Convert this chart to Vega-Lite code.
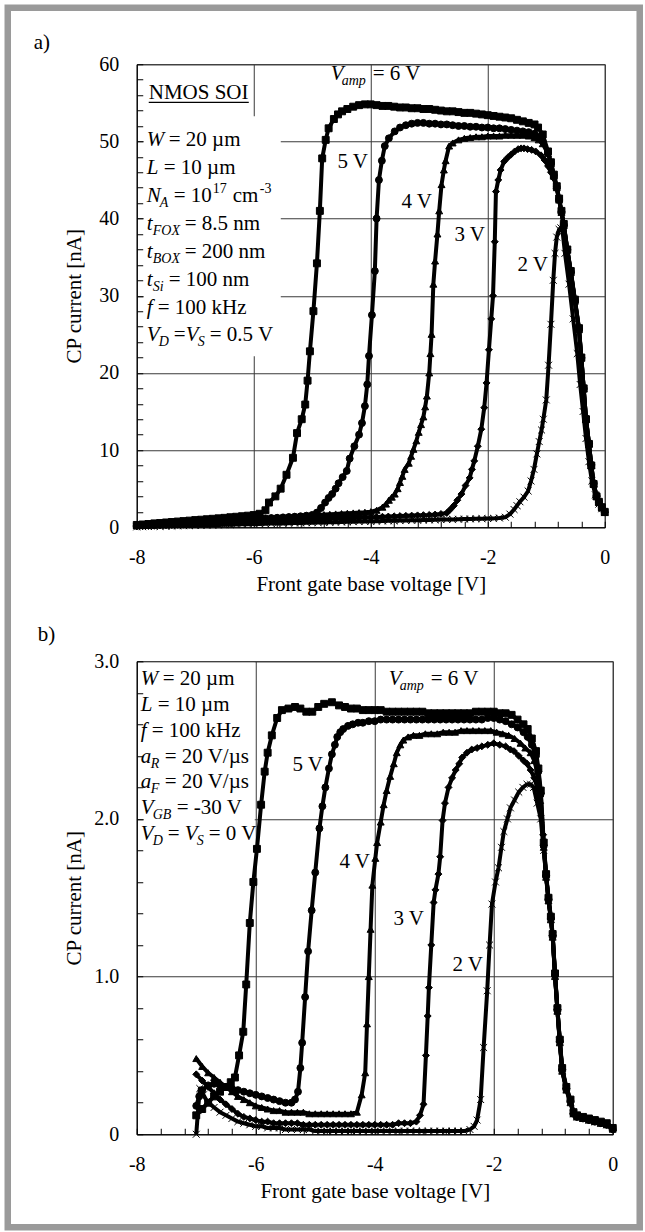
{
"$schema":"https://vega.github.io/schema/vega-lite/v6.json",
"background":"white",
"padding":{"left":3.75,"top":3.25,"right":2.75,"bottom":2.75},
"autosize":{"type":"pad"},
"bounds":"flush",
"spacing":134,
"config":{
 "view":{"stroke":"#222","strokeWidth":1},
 "axis":{"labelFont":"Liberation Serif","titleFont":"Liberation Serif","labelFontSize":20,"titleFontSize":21,"titleFontWeight":"normal","labelColor":"#000","titleColor":"#000","domainColor":"#000","domainWidth":1,"tickColor":"#000","tickWidth":1,"tickSize":-6,"gridColor":"#3a3a3a","gridWidth":1,"labelFlush":false,"labelOverlap":false,"labelBound":false},
 "axisX":{"labelPadding":26,"titlePadding":6},
 "axisY":{"labelPadding":24,"titlePadding":14},
 "text":{"font":"Liberation Serif","fontSize":21,"align":"left","baseline":"alphabetic","color":"#000"}
},
"datasets":{
"a":[
{"s":"6 V","x":[-8,-7.9,-7.8,-7.7,-7.6,-7.5,-7.4,-7.3,-7.2,-7.1,-7,-6.9,-6.8,-6.7,-6.6,-6.5,-6.4,-6.3,-6.2,-6.1,-6,-5.9,-5.8,-5.74,-5.63,-5.54,-5.44,-5.33,-5.26,-5.18,-5.12,-5.08,-5.04,-4.98,-4.92,-4.87,-4.83,-4.77,-4.72,-4.63,-4.56,-4.49,-4.4,-4.3,-4.2,-4.1,-4,-3.9,-3.8,-3.7,-3.6,-3.5,-3.4,-3.3,-3.2,-3.1,-3,-2.9,-2.8,-2.7,-2.6,-2.5,-2.4,-2.3,-2.2,-2.1,-2,-1.9,-1.8,-1.7,-1.6,-1.5,-1.4,-1.3,-1.2,-1.14,-1.06,-0.97,-0.92,-0.87,-0.82,-0.78,-0.74,-0.7,-0.64,-0.58,-0.51,-0.44,-0.4,-0.36,-0.32,-0.27,-0.23,-0.19,-0.14,-0.1,-0.05,0],
 "y":[0.3,0.36,0.42,0.5,0.55,0.62,0.68,0.74,0.8,0.86,0.93,0.98,1.04,1.1,1.16,1.22,1.3,1.36,1.43,1.5,1.58,1.75,2.2,3.2,4,5,6.8,9,12.2,14,15.9,19,22.8,28,34.2,41,47.8,50.2,51.7,52.9,53.5,53.9,54.2,54.5,54.7,54.8,54.8,54.7,54.6,54.6,54.5,54.4,54.4,54.3,54.3,54.2,54.2,54.1,54,53.9,53.9,53.8,53.7,53.7,53.6,53.5,53.4,53.3,53.2,53.1,53,52.8,52.6,52.4,52.2,51.8,50.9,48.7,47.3,45.7,44.2,42.6,41,39.3,36,33.2,29.5,25.8,22,18,14,10.8,8,5.6,4,3.3,2.6,2]},
{"s":"5 V","x":[-8,-7.9,-7.8,-7.7,-7.6,-7.5,-7.4,-7.3,-7.2,-7.1,-7,-6.9,-6.8,-6.7,-6.6,-6.5,-6.4,-6.3,-6.2,-6.1,-6,-5.9,-5.8,-5.7,-5.6,-5.5,-5.4,-5.3,-5.2,-5.1,-5,-4.92,-4.85,-4.78,-4.72,-4.66,-4.6,-4.55,-4.48,-4.41,-4.36,-4.28,-4.2,-4.15,-4.1,-4.06,-4.03,-3.98,-3.93,-3.9,-3.86,-3.81,-3.76,-3.69,-3.59,-3.5,-3.4,-3.3,-3.2,-3.1,-3,-2.9,-2.8,-2.7,-2.6,-2.5,-2.4,-2.3,-2.2,-2.1,-2,-1.9,-1.8,-1.7,-1.6,-1.5,-1.4,-1.3,-1.2,-1.13,-1.06,-0.97,-0.92,-0.87,-0.82,-0.78,-0.74,-0.7,-0.64,-0.58,-0.51,-0.44,-0.4,-0.36,-0.32,-0.27,-0.23,-0.19,-0.14,-0.1,-0.05,0],
 "y":[0.2,0.24,0.29,0.33,0.37,0.42,0.46,0.5,0.55,0.59,0.63,0.67,0.72,0.76,0.8,0.85,0.89,0.93,0.98,1.02,1.06,1.1,1.15,1.19,1.23,1.28,1.32,1.37,1.42,1.5,1.6,1.9,2.5,3.2,3.8,4.3,5,5.7,6.5,7.3,8.9,10.5,12,13.5,15.7,18.5,22.2,27.5,33.2,40,45,47.5,49.4,50.4,51.3,51.8,52.1,52.3,52.4,52.4,52.3,52.3,52.2,52.2,52.1,52,52,51.9,51.9,51.8,51.8,51.7,51.7,51.6,51.5,51.4,51.3,51.2,51,50.6,50,48.5,47.2,45.6,44.1,42.5,40.9,39.2,36,33.1,29.4,25.7,22,18,14.1,10.9,8.1,5.7,4.1,3.3,2.6,2]},
{"s":"4 V","x":[-8,-7.9,-7.8,-7.7,-7.6,-7.5,-7.4,-7.3,-7.2,-7.1,-7,-6.9,-6.8,-6.7,-6.6,-6.5,-6.4,-6.3,-6.2,-6.1,-6,-5.9,-5.8,-5.7,-5.6,-5.5,-5.4,-5.3,-5.2,-5.1,-5,-4.9,-4.8,-4.7,-4.6,-4.5,-4.4,-4.3,-4.2,-4.1,-4,-3.9,-3.8,-3.74,-3.69,-3.64,-3.59,-3.54,-3.5,-3.46,-3.42,-3.35,-3.31,-3.27,-3.22,-3.18,-3.14,-3.1,-3.07,-3.04,-3,-2.98,-2.96,-2.93,-2.9,-2.86,-2.83,-2.79,-2.75,-2.72,-2.66,-2.6,-2.5,-2.4,-2.3,-2.2,-2.1,-2,-1.9,-1.8,-1.7,-1.6,-1.5,-1.4,-1.3,-1.2,-1.13,-1.06,-0.97,-0.92,-0.87,-0.82,-0.78,-0.74,-0.7,-0.64,-0.58,-0.51,-0.44,-0.4,-0.36,-0.32,-0.27,-0.23,-0.19,-0.14,-0.1,-0.05,0],
 "y":[0.2,0.24,0.29,0.33,0.38,0.42,0.47,0.51,0.56,0.6,0.65,0.69,0.74,0.78,0.83,0.87,0.92,0.96,1.01,1.05,1.1,1.14,1.19,1.23,1.28,1.32,1.37,1.41,1.46,1.5,1.55,1.59,1.64,1.68,1.73,1.77,1.82,1.86,1.9,1.95,2.02,2.2,2.6,3,3.5,3.9,4.3,5,5.8,6.6,7.5,8.3,9.2,10.1,11.2,12.3,13.3,14.3,15.6,17,20,22.5,25,31.5,34.5,38,41,44.4,46.3,47.5,49.4,49.8,50.2,50.4,50.5,50.6,50.6,50.7,50.7,50.7,50.8,50.8,50.8,50.8,50.7,50.5,50.2,49.7,48.4,47.1,45.5,44,42.4,40.8,39.1,35.9,33,29.3,25.6,21.9,17.9,14,10.8,8,5.6,4,3.2,2.5,1.9]},
{"s":"3 V","x":[-8,-7.9,-7.8,-7.7,-7.6,-7.5,-7.4,-7.3,-7.2,-7.1,-7,-6.9,-6.8,-6.7,-6.6,-6.5,-6.4,-6.3,-6.2,-6.1,-6,-5.9,-5.8,-5.7,-5.6,-5.5,-5.4,-5.3,-5.2,-5.1,-5,-4.9,-4.8,-4.7,-4.6,-4.5,-4.4,-4.3,-4.2,-4.1,-4,-3.9,-3.8,-3.7,-3.6,-3.5,-3.4,-3.3,-3.2,-3.1,-3,-2.9,-2.8,-2.7,-2.64,-2.58,-2.52,-2.45,-2.38,-2.31,-2.27,-2.23,-2.17,-2.11,-2.06,-2.02,-1.98,-1.94,-1.91,-1.88,-1.86,-1.82,-1.78,-1.72,-1.66,-1.6,-1.54,-1.48,-1.43,-1.38,-1.32,-1.25,-1.18,-1.09,-1.03,-0.97,-0.92,-0.87,-0.82,-0.78,-0.74,-0.7,-0.64,-0.58,-0.51,-0.44,-0.4,-0.36,-0.32,-0.27,-0.23,-0.19,-0.14,-0.1,-0.05,0],
 "y":[0.1,0.13,0.16,0.19,0.22,0.25,0.28,0.31,0.34,0.37,0.4,0.43,0.46,0.49,0.52,0.55,0.58,0.61,0.64,0.67,0.7,0.73,0.76,0.79,0.82,0.85,0.88,0.91,0.94,0.97,1,1.03,1.06,1.09,1.12,1.15,1.18,1.21,1.24,1.27,1.3,1.33,1.36,1.39,1.42,1.45,1.48,1.51,1.54,1.57,1.6,1.65,1.72,1.85,2.3,2.8,3.5,4.3,5.4,6.4,7.5,8.6,10.5,12.7,15.5,18.7,23,27,30,37,43.5,45,46.3,47.4,47.9,48.3,48.7,49,49.1,49.1,49,48.9,48.7,48.2,47.6,46.8,46,45.2,43.9,42.4,40.8,39.1,35.9,33,29.3,25.6,21.9,17.9,14,10.8,8,5.6,4,3.2,2.5,1.9]},
{"s":"2 V","x":[-8,-7.9,-7.8,-7.7,-7.6,-7.5,-7.4,-7.3,-7.2,-7.1,-7,-6.9,-6.8,-6.7,-6.6,-6.5,-6.4,-6.3,-6.2,-6.1,-6,-5.9,-5.8,-5.7,-5.6,-5.5,-5.4,-5.3,-5.2,-5.1,-5,-4.9,-4.8,-4.7,-4.6,-4.5,-4.4,-4.3,-4.2,-4.1,-4,-3.9,-3.8,-3.7,-3.6,-3.5,-3.4,-3.3,-3.2,-3.1,-3,-2.9,-2.8,-2.7,-2.6,-2.5,-2.4,-2.3,-2.2,-2.1,-2,-1.9,-1.8,-1.7,-1.62,-1.55,-1.5,-1.45,-1.38,-1.31,-1.26,-1.21,-1.16,-1.12,-1.08,-1.05,-1,-0.96,-0.92,-0.88,-0.85,-0.82,-0.78,-0.75,-0.72,-0.68,-0.61,-0.54,-0.47,-0.42,-0.37,-0.32,-0.27,-0.22,-0.16,-0.1,-0.05,0],
 "y":[0.05,0.07,0.09,0.1,0.12,0.14,0.16,0.18,0.2,0.21,0.23,0.25,0.27,0.29,0.3,0.32,0.34,0.36,0.38,0.39,0.41,0.43,0.45,0.47,0.48,0.5,0.52,0.54,0.56,0.57,0.59,0.61,0.63,0.65,0.66,0.68,0.7,0.72,0.74,0.75,0.77,0.79,0.81,0.83,0.84,0.86,0.88,0.9,0.92,0.93,0.95,0.97,0.99,1.01,1.02,1.04,1.06,1.08,1.1,1.11,1.13,1.15,1.2,1.3,1.7,2.3,2.8,3.3,3.9,4.7,6,7.5,9.5,11.1,12.6,14,16.5,21,26.3,32,35.5,37.6,38.6,38.8,38.3,35.5,31.5,27,22.5,18.5,15,11.5,8.5,6,4.2,3,2.4,1.9]}
],
"b":[
{"s":"6 V","x":[-7,-6.9,-6.8,-6.7,-6.6,-6.5,-6.42,-6.35,-6.28,-6.21,-6.16,-6.1,-6.04,-5.98,-5.91,-5.85,-5.8,-5.73,-5.64,-5.56,-5.45,-5.34,-5.25,-5.15,-5.05,-4.95,-4.85,-4.72,-4.6,-4.5,-4.4,-4.3,-4.2,-4.1,-4,-3.9,-3.8,-3.7,-3.6,-3.5,-3.4,-3.3,-3.2,-3.1,-3,-2.9,-2.8,-2.7,-2.6,-2.5,-2.4,-2.3,-2.2,-2.1,-2,-1.9,-1.8,-1.7,-1.6,-1.5,-1.43,-1.36,-1.29,-1.25,-1.21,-1.16,-1.12,-1.08,-1.04,-1.01,-0.97,-0.93,-0.89,-0.85,-0.78,-0.71,-0.66,-0.6,-0.5,-0.4,-0.3,-0.2,-0.1,0],
 "y":[0.12,0.16,0.2,0.24,0.27,0.3,0.33,0.36,0.5,0.65,0.95,1.34,1.6,1.81,2.09,2.3,2.42,2.53,2.64,2.69,2.7,2.71,2.7,2.68,2.68,2.71,2.73,2.74,2.72,2.71,2.7,2.7,2.69,2.69,2.69,2.69,2.68,2.68,2.68,2.68,2.68,2.68,2.68,2.67,2.67,2.67,2.67,2.67,2.67,2.67,2.67,2.68,2.68,2.68,2.68,2.67,2.67,2.66,2.63,2.6,2.57,2.51,2.43,2.32,2.18,1.85,1.65,1.5,1.38,1.27,1.02,0.8,0.6,0.42,0.3,0.22,0.14,0.12,0.11,0.1,0.09,0.08,0.07,0.04]},
{"s":"5 V","x":[-7,-6.95,-6.9,-6.8,-6.7,-6.6,-6.5,-6.4,-6.3,-6.2,-6.1,-6,-5.9,-5.8,-5.7,-5.6,-5.5,-5.4,-5.34,-5.29,-5.25,-5.22,-5.17,-5.12,-5.06,-5,-4.93,-4.88,-4.83,-4.77,-4.72,-4.67,-4.63,-4.58,-4.53,-4.45,-4.37,-4.28,-4.2,-4.1,-4,-3.9,-3.8,-3.7,-3.6,-3.5,-3.4,-3.3,-3.2,-3.1,-3,-2.9,-2.8,-2.7,-2.6,-2.5,-2.4,-2.3,-2.2,-2.1,-2,-1.9,-1.8,-1.7,-1.6,-1.5,-1.43,-1.36,-1.29,-1.25,-1.21,-1.16,-1.12,-1.08,-1.04,-1.01,-0.97,-0.93,-0.89,-0.85,-0.78,-0.71,-0.66,-0.6,-0.5,-0.4,-0.3,-0.2,-0.1,0],
 "y":[0.18,0.24,0.28,0.31,0.32,0.31,0.3,0.29,0.28,0.27,0.26,0.25,0.24,0.23,0.22,0.21,0.2,0.2,0.22,0.27,0.42,0.58,0.87,1.16,1.42,1.66,1.94,2.08,2.2,2.32,2.41,2.47,2.52,2.55,2.57,2.59,2.6,2.61,2.61,2.62,2.62,2.63,2.63,2.63,2.63,2.63,2.63,2.63,2.63,2.63,2.63,2.63,2.63,2.63,2.63,2.63,2.63,2.63,2.63,2.64,2.64,2.63,2.62,2.6,2.58,2.55,2.52,2.47,2.4,2.3,2.16,1.83,1.64,1.49,1.37,1.26,1.01,0.79,0.59,0.41,0.29,0.21,0.13,0.11,0.1,0.09,0.08,0.07,0.06,0.03]},
{"s":"4 V","x":[-7,-6.9,-6.8,-6.7,-6.6,-6.5,-6.4,-6.3,-6.2,-6.1,-6,-5.9,-5.8,-5.7,-5.6,-5.5,-5.4,-5.3,-5.2,-5.1,-5,-4.9,-4.8,-4.7,-4.6,-4.5,-4.4,-4.3,-4.22,-4.16,-4.13,-4.1,-4.07,-4.04,-3.99,-3.96,-3.9,-3.85,-3.8,-3.74,-3.68,-3.63,-3.57,-3.52,-3.44,-3.35,-3.25,-3.15,-3.05,-2.95,-2.85,-2.75,-2.65,-2.55,-2.45,-2.35,-2.25,-2.15,-2.05,-1.95,-1.85,-1.75,-1.65,-1.55,-1.47,-1.38,-1.32,-1.27,-1.22,-1.16,-1.12,-1.08,-1.04,-1.01,-0.97,-0.93,-0.89,-0.85,-0.78,-0.71,-0.66,-0.6,-0.5,-0.4,-0.3,-0.2,-0.1,0],
 "y":[0.48,0.43,0.39,0.36,0.33,0.3,0.27,0.24,0.22,0.2,0.18,0.17,0.16,0.15,0.15,0.14,0.14,0.14,0.14,0.13,0.13,0.13,0.13,0.13,0.13,0.13,0.13,0.14,0.25,0.39,0.7,1,1.3,1.58,1.75,1.85,1.98,2.09,2.18,2.27,2.35,2.42,2.47,2.5,2.52,2.53,2.53,2.54,2.54,2.54,2.55,2.55,2.55,2.56,2.56,2.56,2.56,2.56,2.56,2.55,2.54,2.53,2.51,2.48,2.45,2.42,2.37,2.3,2.16,1.82,1.63,1.48,1.36,1.25,1,0.78,0.58,0.4,0.28,0.2,0.13,0.11,0.1,0.09,0.08,0.07,0.06,0.04]},
{"s":"3 V","x":[-7,-6.9,-6.8,-6.7,-6.6,-6.5,-6.4,-6.3,-6.2,-6.1,-6,-5.9,-5.8,-5.7,-5.6,-5.5,-5.4,-5.3,-5.2,-5.1,-5,-4.9,-4.8,-4.7,-4.6,-4.5,-4.4,-4.3,-4.2,-4.1,-4,-3.9,-3.8,-3.7,-3.6,-3.5,-3.4,-3.3,-3.24,-3.18,-3.14,-3.11,-3.09,-3.05,-3.01,-2.98,-2.93,-2.9,-2.86,-2.82,-2.76,-2.7,-2.64,-2.58,-2.53,-2.45,-2.37,-2.28,-2.2,-2.1,-2,-1.9,-1.8,-1.72,-1.66,-1.58,-1.5,-1.44,-1.38,-1.32,-1.27,-1.22,-1.17,-1.12,-1.08,-1.04,-1.01,-0.97,-0.93,-0.89,-0.85,-0.78,-0.71,-0.66,-0.6,-0.5,-0.4,-0.3,-0.2,-0.1,0],
 "y":[0.38,0.34,0.3,0.26,0.22,0.19,0.16,0.13,0.11,0.1,0.09,0.08,0.08,0.07,0.07,0.07,0.07,0.07,0.06,0.06,0.06,0.06,0.06,0.06,0.06,0.06,0.06,0.06,0.06,0.06,0.06,0.06,0.06,0.06,0.07,0.07,0.07,0.08,0.12,0.19,0.5,0.75,0.93,1.2,1.47,1.55,1.65,1.76,1.99,2.1,2.2,2.26,2.31,2.35,2.39,2.42,2.44,2.45,2.46,2.47,2.48,2.47,2.46,2.44,2.43,2.4,2.37,2.35,2.31,2.26,2.2,2.1,1.9,1.64,1.49,1.37,1.26,1.01,0.79,0.59,0.41,0.29,0.21,0.13,0.11,0.1,0.09,0.08,0.07,0.06,0.04]},
{"s":"2 V","x":[-7,-6.97,-6.94,-6.88,-6.82,-6.7,-6.6,-6.5,-6.4,-6.3,-6.2,-6.1,-6,-5.9,-5.8,-5.7,-5.6,-5.5,-5.4,-5.3,-5.2,-5.1,-5,-4.9,-4.8,-4.7,-4.6,-4.5,-4.4,-4.3,-4.2,-4.1,-4,-3.9,-3.8,-3.7,-3.6,-3.5,-3.4,-3.3,-3.2,-3.1,-3,-2.9,-2.8,-2.7,-2.6,-2.5,-2.4,-2.33,-2.28,-2.22,-2.17,-2.11,-2.07,-2.03,-1.97,-1.92,-1.87,-1.83,-1.77,-1.72,-1.65,-1.58,-1.51,-1.44,-1.38,-1.33,-1.27,-1.21,-1.16,-1.12,-1.08,-1.04,-1.01,-0.97,-0.93,-0.89,-0.85,-0.78,-0.71,-0.66,-0.6,-0.5,-0.4,-0.3,-0.2,-0.1,0],
 "y":[0,0.15,0.29,0.25,0.21,0.17,0.14,0.12,0.1,0.08,0.07,0.06,0.05,0.05,0.04,0.04,0.04,0.03,0.03,0.03,0.03,0.03,0.02,0.02,0.02,0.02,0.02,0.02,0.02,0.02,0.02,0.02,0.02,0.02,0.02,0.02,0.02,0.02,0.02,0.02,0.02,0.02,0.02,0.02,0.02,0.02,0.02,0.02,0.03,0.05,0.09,0.22,0.55,0.91,1.2,1.46,1.6,1.69,1.82,1.92,2,2.07,2.12,2.17,2.2,2.22,2.22,2.2,2.1,2,1.8,1.64,1.49,1.37,1.26,1.01,0.79,0.59,0.41,0.29,0.21,0.13,0.11,0.1,0.09,0.08,0.07,0.06,0.03]}
]
},
"vconcat":[
{
 "width":468,"height":463,
 "layer":[
  {"data":{"values":[{}]},"layer":[
   {"mark":{"type":"rect","fill":"white"},"encoding":{"x":{"datum":-7.88},"x2":{"datum":-5.538},"y":{"datum":53.26},"y2":{"datum":22.16}}},
   {"mark":{"type":"rect","fill":null,"stroke":"#9a9a9a","strokeWidth":6.5},"encoding":{"x":{"datum":-10.205},"x2":{"datum":0.598},"y":{"datum":67.32},"y2":{"datum":-90.71}}}
  ]},
  {"data":{"name":"a"},"transform":[{"flatten":["x","y"]}],"layer":[
   {"mark":{"type":"line","color":"black","strokeWidth":4,"strokeJoin":"round"},
    "encoding":{
     "x":{"field":"x","type":"quantitative","scale":{"domain":[-8,0],"nice":false,"zero":false},
      "axis":{"title":"Front gate base voltage [V]","grid":true,"labelOverlap":false,"tickCount":200,"values":[-8,-7.6,-7.2,-6.8,-6.4,-6,-5.6,-5.2,-4.8,-4.4,-4,-3.6,-3.2,-2.8,-2.4,-2,-1.6,-1.2,-0.8,-0.4,0],
       "labelExpr":"abs(datum.value % 2) < 0.01 ? '' + datum.value : ''",
       "gridOpacity":{"condition":{"test":"abs(datum.value % 2) < 0.01","value":1},"value":0}}},
     "y":{"field":"y","type":"quantitative","scale":{"domain":[0,60],"nice":false},
      "axis":{"title":"CP current [nA]","grid":true,"labelOverlap":false,"tickCount":200,"values":[0,2,4,6,8,10,12,14,16,18,20,22,24,26,28,30,32,34,36,38,40,42,44,46,48,50,52,54,56,58,60],
       "labelExpr":"datum.value % 10 === 0 ? '' + datum.value : ''",
       "gridOpacity":{"condition":{"test":"datum.value % 10 === 0","value":1},"value":0}}},
     "detail":{"field":"s"}}},
   {"mark":{"type":"point","filled":true,"color":"black","stroke":"black","strokeWidth":1,"size":48,"opacity":1},
    "encoding":{"x":{"field":"x","type":"quantitative"},"y":{"field":"y","type":"quantitative"},
     "shape":{"field":"s","type":"nominal","legend":null,"scale":{"domain":["6 V","5 V","4 V","3 V","2 V"],"range":["square","circle","triangle-up","diamond","M-1,-1L1,1M1,-1L-1,1"]}}}}
  ]},
  {"data":{"values":[{}]},"layer":[
   {"mark":{"type":"text","text":"a)"},"encoding":{"x":{"datum":-9.761},"y":{"datum":61.94}}},
   {"mark":{"type":"text","text":"NMOS SOI"},"encoding":{"x":{"datum":-7.795},"y":{"datum":55.46}}},
   {"mark":{"type":"rule","color":"black","strokeWidth":1.3},"encoding":{"x":{"datum":-7.795},"x2":{"datum":-6.085},"y":{"datum":55.07}}},
   {"mark":{"type":"text","text":"W","fontStyle":"italic"},"encoding":{"x":{"datum":-7.829},"y":{"datum":49.38}}},
   {"mark":{"type":"text","text":"= 20 µm","dx":22},"encoding":{"x":{"datum":-7.829},"y":{"datum":49.38}}},
   {"mark":{"type":"text","text":"L","fontStyle":"italic"},"encoding":{"x":{"datum":-7.829},"y":{"datum":45.75}}},
   {"mark":{"type":"text","text":"= 10 µm","dx":17},"encoding":{"x":{"datum":-7.829},"y":{"datum":45.75}}},
   {"mark":{"type":"text","text":"N","fontStyle":"italic"},"encoding":{"x":{"datum":-7.829},"y":{"datum":42.12}}},
   {"mark":{"type":"text","text":"A","fontStyle":"italic","fontSize":14,"dx":13,"dy":5},"encoding":{"x":{"datum":-7.829},"y":{"datum":42.12}}},
   {"mark":{"type":"text","text":"= 10","dx":27},"encoding":{"x":{"datum":-7.829},"y":{"datum":42.12}}},
   {"mark":{"type":"text","text":"17","fontSize":14,"dx":66,"dy":-9},"encoding":{"x":{"datum":-7.829},"y":{"datum":42.12}}},
   {"mark":{"type":"text","text":"cm","dx":86},"encoding":{"x":{"datum":-7.829},"y":{"datum":42.12}}},
   {"mark":{"type":"text","text":"-3","fontSize":14,"dx":113,"dy":-9},"encoding":{"x":{"datum":-7.829},"y":{"datum":42.12}}},
   {"mark":{"type":"text","text":"t","fontStyle":"italic"},"encoding":{"x":{"datum":-7.829},"y":{"datum":38.49}}},
   {"mark":{"type":"text","text":"FOX","fontStyle":"italic","fontSize":14,"dx":6,"dy":5},"encoding":{"x":{"datum":-7.829},"y":{"datum":38.49}}},
   {"mark":{"type":"text","text":"= 8.5 nm","dx":38},"encoding":{"x":{"datum":-7.829},"y":{"datum":38.49}}},
   {"mark":{"type":"text","text":"t","fontStyle":"italic"},"encoding":{"x":{"datum":-7.829},"y":{"datum":34.86}}},
   {"mark":{"type":"text","text":"BOX","fontStyle":"italic","fontSize":14,"dx":6,"dy":5},"encoding":{"x":{"datum":-7.829},"y":{"datum":34.86}}},
   {"mark":{"type":"text","text":"= 200 nm","dx":38},"encoding":{"x":{"datum":-7.829},"y":{"datum":34.86}}},
   {"mark":{"type":"text","text":"t","fontStyle":"italic"},"encoding":{"x":{"datum":-7.829},"y":{"datum":31.23}}},
   {"mark":{"type":"text","text":"Si","fontStyle":"italic","fontSize":14,"dx":6,"dy":5},"encoding":{"x":{"datum":-7.829},"y":{"datum":31.23}}},
   {"mark":{"type":"text","text":"= 100 nm","dx":22},"encoding":{"x":{"datum":-7.829},"y":{"datum":31.23}}},
   {"mark":{"type":"text","text":"f","fontStyle":"italic"},"encoding":{"x":{"datum":-7.829},"y":{"datum":27.6}}},
   {"mark":{"type":"text","text":"= 100 kHz","dx":11},"encoding":{"x":{"datum":-7.829},"y":{"datum":27.6}}},
   {"mark":{"type":"text","text":"V","fontStyle":"italic"},"encoding":{"x":{"datum":-7.829},"y":{"datum":24.1}}},
   {"mark":{"type":"text","text":"D","fontStyle":"italic","fontSize":14,"dx":12,"dy":5},"encoding":{"x":{"datum":-7.829},"y":{"datum":24.1}}},
   {"mark":{"type":"text","text":"=","dx":27},"encoding":{"x":{"datum":-7.829},"y":{"datum":24.1}}},
   {"mark":{"type":"text","text":"V","fontStyle":"italic","dx":39},"encoding":{"x":{"datum":-7.829},"y":{"datum":24.1}}},
   {"mark":{"type":"text","text":"S","fontStyle":"italic","fontSize":14,"dx":51,"dy":5},"encoding":{"x":{"datum":-7.829},"y":{"datum":24.1}}},
   {"mark":{"type":"text","text":"= 0.5 V","dx":63},"encoding":{"x":{"datum":-7.829},"y":{"datum":24.1}}},
   {"mark":{"type":"text","text":"V","fontStyle":"italic"},"encoding":{"x":{"datum":-4.684},"y":{"datum":57.92}}},
   {"mark":{"type":"text","text":"amp","fontStyle":"italic","fontSize":14,"dx":11,"dy":5},"encoding":{"x":{"datum":-4.684},"y":{"datum":57.92}}},
   {"mark":{"type":"text","text":"= 6 V","dx":42},"encoding":{"x":{"datum":-4.684},"y":{"datum":57.92}}},
   {"mark":{"type":"text","text":"5 V","align":"center"},"encoding":{"x":{"datum":-4.308},"y":{"datum":46.52}}},
   {"mark":{"type":"text","text":"4 V","align":"center"},"encoding":{"x":{"datum":-3.214},"y":{"datum":41.34}}},
   {"mark":{"type":"text","text":"3 V","align":"center"},"encoding":{"x":{"datum":-2.308},"y":{"datum":37.06}}},
   {"mark":{"type":"text","text":"2 V","align":"center"},"encoding":{"x":{"datum":-1.231},"y":{"datum":33.17}}}
  ]}
 ]
},
{
 "width":476,"height":473,
 "layer":[
  {"data":{"values":[{}]},"layer":[
   {"mark":{"type":"rect","fill":"white"},"encoding":{"x":{"datum":-7.88},"x2":{"datum":-6.017},"y":{"datum":2.99},"y2":{"datum":1.814}}}
  ]},
  {"data":{"name":"b"},"transform":[{"flatten":["x","y"]}],"layer":[
   {"mark":{"type":"line","color":"black","strokeWidth":4,"strokeJoin":"round"},
    "encoding":{
     "x":{"field":"x","type":"quantitative","scale":{"domain":[-8,0],"nice":false,"zero":false},
      "axis":{"title":"Front gate base voltage [V]","grid":true,"labelOverlap":false,"tickCount":200,"values":[-8,-7.6,-7.2,-6.8,-6.4,-6,-5.6,-5.2,-4.8,-4.4,-4,-3.6,-3.2,-2.8,-2.4,-2,-1.6,-1.2,-0.8,-0.4,0],
       "labelExpr":"abs(datum.value % 2) < 0.01 ? '' + datum.value : ''",
       "gridOpacity":{"condition":{"test":"abs(datum.value % 2) < 0.01","value":1},"value":0}}},
     "y":{"field":"y","type":"quantitative","scale":{"domain":[0,3],"nice":false},
      "axis":{"title":"CP current [nA]","titlePadding":9,"grid":true,"labelOverlap":false,"tickCount":200,"values":[0,0.2,0.4,0.6,0.8,1,1.2,1.4,1.6,1.8,2,2.2,2.4,2.6,2.8,3],
       "labelExpr":"datum.value == 0 ? '0' : (abs(datum.value - round(datum.value)) < 0.001 ? format(datum.value, '.1f') : '')",
       "gridOpacity":{"condition":{"test":"abs(datum.value - round(datum.value)) < 0.001","value":1},"value":0}}},
     "detail":{"field":"s"}}},
   {"mark":{"type":"point","filled":true,"color":"black","stroke":"black","strokeWidth":1,"size":48,"opacity":1},
    "encoding":{"x":{"field":"x","type":"quantitative"},"y":{"field":"y","type":"quantitative"},
     "shape":{"field":"s","type":"nominal","legend":null,"scale":{"domain":["6 V","5 V","4 V","3 V","2 V"],"range":["square","circle","triangle-up","diamond","M-1,-1L1,1M1,-1L-1,1"]}}}}
  ]},
  {"data":{"values":[{}]},"layer":[
   {"mark":{"type":"text","text":"b)"},"encoding":{"x":{"datum":-9.664},"y":{"datum":3.127}}},
   {"mark":{"type":"text","text":"W","fontStyle":"italic"},"encoding":{"x":{"datum":-7.933},"y":{"datum":2.848}}},
   {"mark":{"type":"text","text":"= 20 µm","dx":22},"encoding":{"x":{"datum":-7.933},"y":{"datum":2.848}}},
   {"mark":{"type":"text","text":"L","fontStyle":"italic"},"encoding":{"x":{"datum":-7.933},"y":{"datum":2.684}}},
   {"mark":{"type":"text","text":"= 10 µm","dx":17},"encoding":{"x":{"datum":-7.933},"y":{"datum":2.684}}},
   {"mark":{"type":"text","text":"f","fontStyle":"italic"},"encoding":{"x":{"datum":-7.933},"y":{"datum":2.52}}},
   {"mark":{"type":"text","text":"= 100 kHz","dx":11},"encoding":{"x":{"datum":-7.933},"y":{"datum":2.52}}},
   {"mark":{"type":"text","text":"a","fontStyle":"italic"},"encoding":{"x":{"datum":-7.933},"y":{"datum":2.357}}},
   {"mark":{"type":"text","text":"R","fontStyle":"italic","fontSize":14,"dx":10,"dy":5},"encoding":{"x":{"datum":-7.933},"y":{"datum":2.357}}},
   {"mark":{"type":"text","text":"= 20 V/µs","dx":24},"encoding":{"x":{"datum":-7.933},"y":{"datum":2.357}}},
   {"mark":{"type":"text","text":"a","fontStyle":"italic"},"encoding":{"x":{"datum":-7.933},"y":{"datum":2.193}}},
   {"mark":{"type":"text","text":"F","fontStyle":"italic","fontSize":14,"dx":10,"dy":5},"encoding":{"x":{"datum":-7.933},"y":{"datum":2.193}}},
   {"mark":{"type":"text","text":"= 20 V/µs","dx":24},"encoding":{"x":{"datum":-7.933},"y":{"datum":2.193}}},
   {"mark":{"type":"text","text":"V","fontStyle":"italic"},"encoding":{"x":{"datum":-7.933},"y":{"datum":2.03}}},
   {"mark":{"type":"text","text":"GB","fontStyle":"italic","fontSize":14,"dx":12,"dy":5},"encoding":{"x":{"datum":-7.933},"y":{"datum":2.03}}},
   {"mark":{"type":"text","text":"= -30 V","dx":36},"encoding":{"x":{"datum":-7.933},"y":{"datum":2.03}}},
   {"mark":{"type":"text","text":"V","fontStyle":"italic"},"encoding":{"x":{"datum":-7.933},"y":{"datum":1.866}}},
   {"mark":{"type":"text","text":"D","fontStyle":"italic","fontSize":14,"dx":12,"dy":5},"encoding":{"x":{"datum":-7.933},"y":{"datum":1.866}}},
   {"mark":{"type":"text","text":"=","dx":27},"encoding":{"x":{"datum":-7.933},"y":{"datum":1.866}}},
   {"mark":{"type":"text","text":"V","fontStyle":"italic","dx":44},"encoding":{"x":{"datum":-7.933},"y":{"datum":1.866}}},
   {"mark":{"type":"text","text":"S","fontStyle":"italic","fontSize":14,"dx":56,"dy":5},"encoding":{"x":{"datum":-7.933},"y":{"datum":1.866}}},
   {"mark":{"type":"text","text":"= 0 V","dx":68},"encoding":{"x":{"datum":-7.933},"y":{"datum":1.866}}},
   {"mark":{"type":"text","text":"V","fontStyle":"italic"},"encoding":{"x":{"datum":-3.765},"y":{"datum":2.848}}},
   {"mark":{"type":"text","text":"amp","fontStyle":"italic","fontSize":14,"dx":11,"dy":5},"encoding":{"x":{"datum":-3.765},"y":{"datum":2.848}}},
   {"mark":{"type":"text","text":"= 6 V","dx":42},"encoding":{"x":{"datum":-3.765},"y":{"datum":2.848}}},
   {"mark":{"type":"text","text":"5 V","align":"center"},"encoding":{"x":{"datum":-5.126},"y":{"datum":2.302}}},
   {"mark":{"type":"text","text":"4 V","align":"center"},"encoding":{"x":{"datum":-4.336},"y":{"datum":1.687}}},
   {"mark":{"type":"text","text":"3 V","align":"center"},"encoding":{"x":{"datum":-3.429},"y":{"datum":1.326}}},
   {"mark":{"type":"text","text":"2 V","align":"center"},"encoding":{"x":{"datum":-2.437},"y":{"datum":1.034}}}
  ]}
 ]
}
]
}
